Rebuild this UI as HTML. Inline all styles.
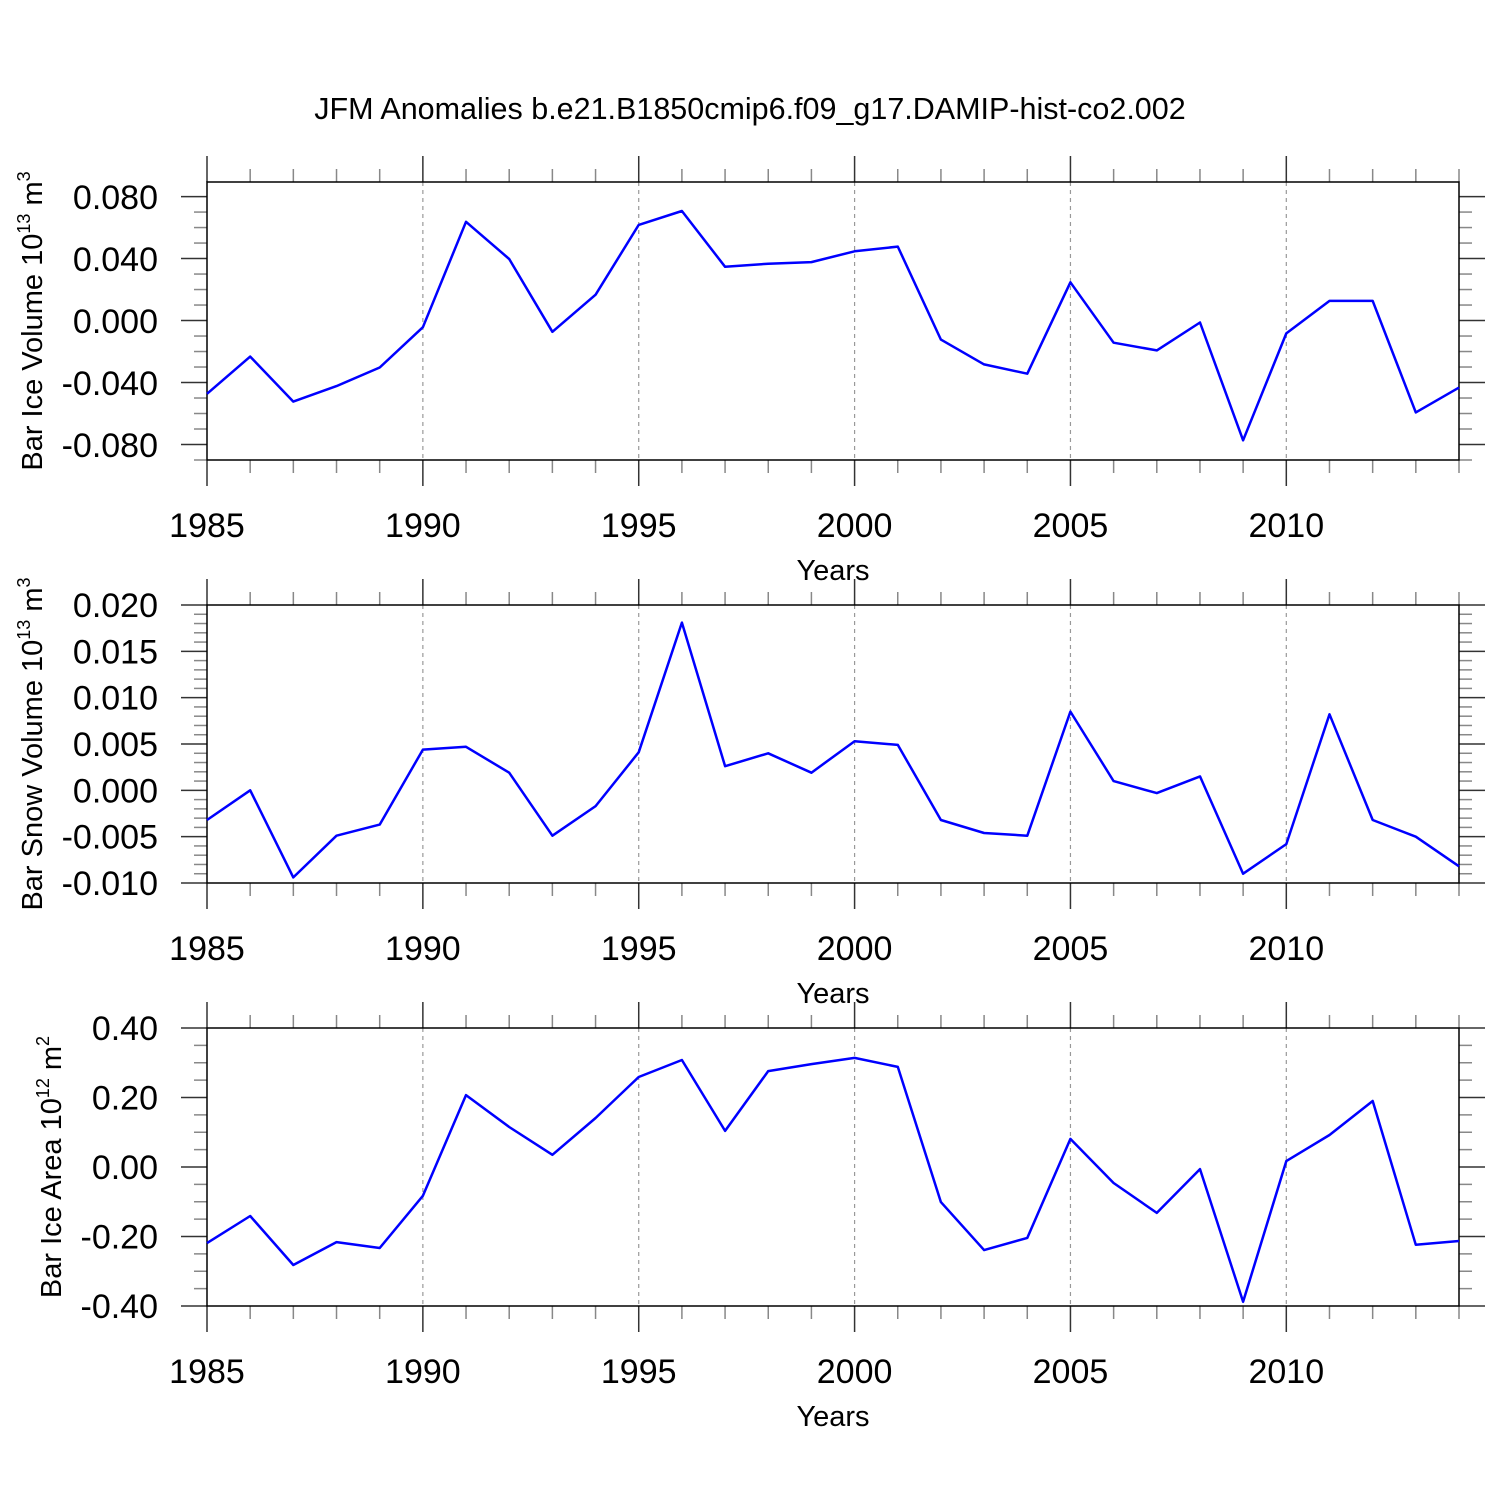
<!DOCTYPE html>
<html><head><meta charset="utf-8"><style>
body{margin:0;background:#fff}
svg{display:block;font-family:"Liberation Sans",sans-serif}
</style></head><body>
<svg id="chart" width="1500" height="1500" viewBox="0 0 1500 1500">
<rect width="1500" height="1500" fill="#fff"/>
<text x="750" y="119" font-size="30.5" text-anchor="middle">JFM Anomalies b.e21.B1850cmip6.f09_g17.DAMIP-hist-co2.002</text>
</svg>
<script>
const years=[1985,1986,1987,1988,1989,1990,1991,1992,1993,1994,1995,1996,1997,1998,1999,2000,2001,2002,2003,2004,2005,2006,2007,2008,2009,2010,2011,2012,2013,2014];
const iceVolume=[-0.047,-0.023,-0.052,-0.042,-0.030,-0.004,0.064,0.040,-0.007,0.017,0.062,0.071,0.035,0.037,0.038,0.045,0.048,-0.012,-0.028,-0.034,0.025,-0.014,-0.019,-0.001,-0.077,-0.008,0.013,0.013,-0.059,-0.043];
const snowVolume=[-0.0032,0.0000,-0.0094,-0.0049,-0.0037,0.0044,0.0047,0.0019,-0.0049,-0.0017,0.0041,0.0181,0.0026,0.0040,0.0019,0.0053,0.0049,-0.0032,-0.0046,-0.0049,0.0085,0.0010,-0.0003,0.0015,-0.0090,-0.0058,0.0082,-0.0032,-0.0050,-0.0082];
const iceArea=[-0.219,-0.141,-0.282,-0.216,-0.233,-0.083,0.207,0.115,0.035,0.141,0.259,0.308,0.104,0.276,0.296,0.314,0.288,-0.101,-0.239,-0.204,0.081,-0.046,-0.132,-0.006,-0.388,0.017,0.092,0.190,-0.224,-0.213];
const xTickLabels=["1985","1990","1995","2000","2005","2010"];
const iceVolTicks=["0.080","0.040","0.000","-0.040","-0.080"];
const snowTicks=["0.020","0.015","0.010","0.005","0.000","-0.005","-0.010"];
const areaTicks=["0.40","0.20","0.00","-0.20","-0.40"];

const NS="http://www.w3.org/2000/svg";
const svg=document.getElementById('chart');
function mk(tag,attrs,parent){const e=document.createElementNS(NS,tag);for(const k in attrs)e.setAttribute(k,attrs[k]);(parent||svg).appendChild(e);return e;}
const X0=207,X1=1459,XMIN=1985,XMAX=2014;
const xs=v=>X0+(v-XMIN)/(XMAX-XMIN)*(X1-X0);

function panel(name,top,bot,ymin,ymax,ticks,minorStep,values,titleMain,sup,unit,titleX){
  const g=mk('g',{});
  
  
  const ys=v=>bot-(v-ymin)/(ymax-ymin)*(bot-top);
  xTickLabels.forEach(l=>{const v=+l;if(v>XMIN&&v<XMAX){const ln=mk('line',{x1:xs(v),x2:xs(v),y1:top,y2:bot,stroke:'#999','stroke-width':1.2,'stroke-dasharray':'4,4'},g);
    
    }});
  for(let y=XMIN;y<=XMAX;y++){
    const maj=(y%5===0), L=maj?26:13, x=xs(y);
    mk('line',{x1:x,x2:x,y1:top,y2:top-L,stroke:maj?'#333':'#888','stroke-width':1.5},g);
    mk('line',{x1:x,x2:x,y1:bot,y2:bot+L,stroke:maj?'#333':'#888','stroke-width':1.5},g);
  }
  const nMin=Math.round((ymax-ymin)/minorStep);
  const majVals=ticks.map(Number);
  for(let i=0;i<=nMin;i++){
    const v=ymin+i*minorStep;
    const maj=majVals.some(m=>Math.abs(m-v)<minorStep*0.1);
    const y=ys(v),L=maj?26:13;
    if(y<top-0.5||y>bot+0.5)continue;
    mk('line',{x1:X0,x2:X0-L,y1:y,y2:y,stroke:maj?'#333':'#888','stroke-width':1.5},g);
    mk('line',{x1:X1,x2:X1+L,y1:y,y2:y,stroke:maj?'#333':'#888','stroke-width':1.5},g);
  }
  ticks.forEach(t=>{const tx=mk('text',{x:158,y:ys(+t)+12,'font-size':34,'text-anchor':'end'},g);tx.textContent=t;
    
    });
  xTickLabels.forEach(t=>{const tx=mk('text',{x:xs(+t),y:bot+77,'font-size':34,'text-anchor':'middle'},g);tx.textContent=t;
    
    });
  const xt=mk('text',{x:833,y:bot+120,'font-size':29,'text-anchor':'middle'},g);xt.textContent='Years';
  
  
  const cy=(top+bot)/2;
  const yt=mk('text',{x:titleX,y:cy,'font-size':29,'text-anchor':'middle',transform:`rotate(-90 ${titleX} ${cy})`},g);
  
  
  const a=document.createElementNS(NS,'tspan');a.textContent=titleMain;yt.appendChild(a);
  const b=document.createElementNS(NS,'tspan');b.setAttribute('font-size','18');b.setAttribute('dy','-12');b.textContent=sup;yt.appendChild(b);
  const c=document.createElementNS(NS,'tspan');c.setAttribute('dy','12');c.textContent=' m';yt.appendChild(c);
  const d=document.createElementNS(NS,'tspan');d.setAttribute('font-size','18');d.setAttribute('dy','-12');d.textContent=unit;yt.appendChild(d);
  const box=mk('rect',{x:X0,y:top,width:X1-X0,height:bot-top,fill:'none',stroke:'#000','stroke-width':1.5},g);
  
  
  const pts=values.map((v,i)=>xs(years[i]).toFixed(1)+','+ys(v).toFixed(1)).join(' ');
  const pl=mk('polyline',{points:pts,fill:'none',stroke:'#0000ff','stroke-width':2.5,'stroke-linejoin':'round'},g);
  
  
}
panel('bar-ice-volume',182,460,-0.0897,0.0897,iceVolTicks,0.01,iceVolume,'Bar Ice Volume 10','13','3',42);
panel('bar-snow-volume',605,883,-0.010,0.020,snowTicks,0.001,snowVolume,'Bar Snow Volume 10','13','3',42);
panel('bar-ice-area',1028,1306,-0.40,0.40,areaTicks,0.05,iceArea,'Bar Ice Area 10','12','2',61);
</script>
</body></html>
